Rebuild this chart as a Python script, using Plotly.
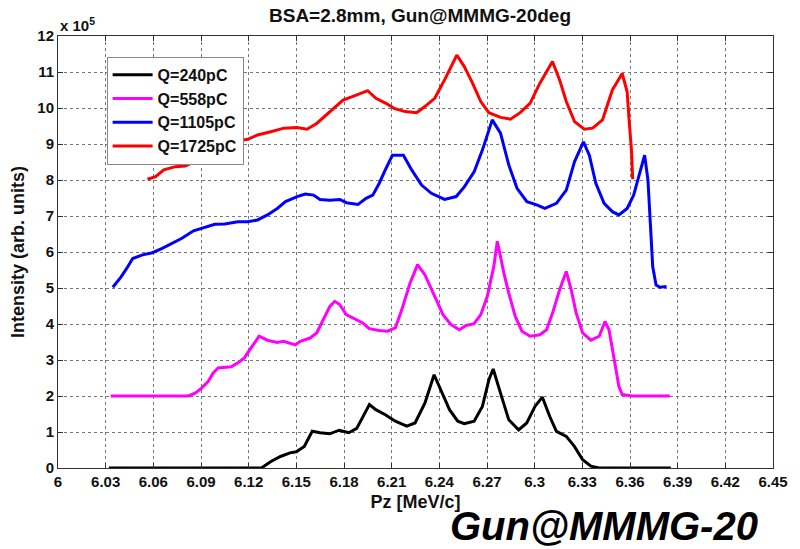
import plotly.graph_objects as go

# Longitudinal momentum spectra, Pz in MeV/c, intensity in units of 1e5
pz_240 = [6.032, 6.060, 6.090, 6.110, 6.128, 6.134, 6.140, 6.146, 6.150, 6.155, 6.160, 6.165,
          6.171, 6.177, 6.183, 6.188, 6.192, 6.196, 6.200, 6.206, 6.2123, 6.2195, 6.2247,
          6.2309, 6.2367, 6.2412, 6.2464, 6.2516, 6.2557, 6.2619, 6.2671, 6.2712, 6.2739,
          6.2785, 6.2837, 6.2899, 6.2950, 6.3002, 6.3048, 6.3095, 6.3137, 6.3199, 6.3250,
          6.3302, 6.3354, 6.3406, 6.3600, 6.3857]
int_240 = [0.0, 0.0, 0.0, 0.0, 0.0, 0.18, 0.32, 0.42, 0.45, 0.60, 1.02, 0.98,
           0.95, 1.05, 0.98, 1.10, 1.43, 1.76, 1.62, 1.48, 1.30, 1.16, 1.25,
           1.80, 2.59, 2.13, 1.62, 1.30, 1.23, 1.30, 1.71, 2.45, 2.75,
           2.08, 1.34, 1.06, 1.25, 1.71, 1.97, 1.43, 1.02, 0.88, 0.60,
           0.23, 0.05, 0.0, 0.0, 0.0]

pz_558 = [6.0332, 6.0600, 6.0821, 6.0863, 6.0904, 6.0946, 6.0977, 6.1008, 6.1049, 6.1090,
          6.1132, 6.1173, 6.1214, 6.1266, 6.1318, 6.1380, 6.1421, 6.1494, 6.1525, 6.1587,
          6.1628, 6.1670, 6.1711, 6.1742, 6.1773, 6.1814, 6.1856, 6.1918, 6.1959, 6.2021,
          6.2073, 6.2123, 6.2164, 6.2216, 6.2263, 6.2309, 6.2371, 6.2423, 6.2474, 6.2526,
          6.2568, 6.2619, 6.2661, 6.2702, 6.2743, 6.2765, 6.2806, 6.2837, 6.2878, 6.2920,
          6.2971, 6.3033, 6.3075, 6.3116, 6.3157, 6.3199, 6.3230, 6.3261, 6.3302, 6.3354,
          6.3406, 6.3443, 6.3468, 6.3499, 6.3530, 6.3551, 6.3613, 6.3851]
int_558 = [2.00, 2.00, 2.00, 2.08, 2.22, 2.41, 2.64, 2.78, 2.80, 2.81,
           2.92, 3.06, 3.33, 3.66, 3.55, 3.49, 3.52, 3.42, 3.52, 3.61,
           3.75, 4.12, 4.49, 4.63, 4.54, 4.26, 4.17, 4.03, 3.87, 3.82,
           3.80, 3.89, 4.40, 5.14, 5.65, 5.37, 4.77, 4.26, 3.98, 3.84,
           3.96, 4.01, 4.26, 4.77, 5.60, 6.30, 5.42, 4.86, 4.21, 3.80,
           3.66, 3.70, 3.84, 4.35, 4.95, 5.46, 4.95, 4.31, 3.75, 3.55,
           3.66, 4.07, 3.84, 3.01, 2.27, 2.04, 2.00, 2.00]

pz_1105 = [6.0345, 6.0397, 6.0439, 6.0470, 6.0532, 6.0594, 6.0656, 6.0718, 6.0780, 6.0853,
           6.0904, 6.0987, 6.1049, 6.1132, 6.1194, 6.1256, 6.1318, 6.1380, 6.1432, 6.1505,
           6.1556, 6.1608, 6.1649, 6.1711, 6.1774, 6.1815, 6.1888, 6.1939, 6.1981, 6.2022,
           6.2064, 6.2105, 6.2174, 6.2226, 6.2288, 6.2350, 6.2433, 6.2506, 6.2557, 6.2619,
           6.2671, 6.2733, 6.2785, 6.2837, 6.2889, 6.2951, 6.3013, 6.3064, 6.3137, 6.3199,
           6.3251, 6.3307, 6.3344, 6.3385, 6.3437, 6.3489, 6.3530, 6.3582, 6.3623, 6.3665,
           6.3692, 6.3713, 6.3727, 6.3743, 6.3764, 6.3789, 6.3830]
int_1105 = [5.02, 5.31, 5.59, 5.82, 5.92, 5.98, 6.10, 6.24, 6.38, 6.59,
            6.66, 6.77, 6.78, 6.84, 6.84, 6.89, 7.03, 7.21, 7.40, 7.54,
            7.61, 7.58, 7.46, 7.44, 7.46, 7.37, 7.32, 7.49, 7.58, 7.91,
            8.32, 8.69, 8.69, 8.28, 7.86, 7.63, 7.46, 7.54, 7.81, 8.23,
            8.83, 9.67, 9.30, 8.42, 7.77, 7.40, 7.31, 7.21, 7.35, 7.72,
            8.51, 9.06, 8.69, 7.91, 7.35, 7.12, 7.03, 7.21, 7.58, 8.28,
            8.69, 8.00, 6.80, 5.59, 5.08, 5.02, 5.04]

pz_1725 = [6.0563, 6.0614, 6.0666, 6.0739, 6.0801, 6.0863, 6.0925, 6.0987, 6.1049, 6.1091,
           6.1194, 6.1256, 6.1339, 6.1422, 6.1505, 6.1567, 6.1628, 6.1711, 6.1794, 6.1877,
           6.1949, 6.2001, 6.2064, 6.2115, 6.2185, 6.2257, 6.2309, 6.2371, 6.2433, 6.2510,
           6.2557, 6.2609, 6.2661, 6.2712, 6.2785, 6.2847, 6.2909, 6.2971, 6.3033, 6.3112,
           6.3157, 6.3199, 6.3251, 6.3313, 6.3365, 6.3427, 6.3489, 6.3551, 6.3582, 6.3596,
           6.3609, 6.3617]
int_1725 = [8.02, 8.09, 8.28, 8.37, 8.39, 8.51, 8.65, 8.79, 8.94, 9.06,
            9.13, 9.25, 9.34, 9.44, 9.46, 9.41, 9.57, 9.90, 10.22, 10.36,
            10.48, 10.27, 10.13, 9.99, 9.90, 9.87, 10.04, 10.27, 10.78, 11.47,
            11.15, 10.69, 10.18, 9.87, 9.74, 9.69, 9.87, 10.13, 10.69, 11.29,
            10.78, 10.18, 9.62, 9.41, 9.44, 9.67, 10.50, 10.96, 10.45, 9.57,
            8.83, 8.02]

series_names = ["Q=240pC", "Q=558pC", "Q=1105pC", "Q=1725pC"]
series_colors = ["#000000", "#ff00ff", "#0000ff", "#ff0000"]

x_ticks = [6.0, 6.03, 6.06, 6.09, 6.12, 6.15, 6.18, 6.21, 6.24, 6.27, 6.30, 6.33, 6.36, 6.39, 6.42, 6.45]
x_tick_text = ["6", "6.03", "6.06", "6.09", "6.12", "6.15", "6.18", "6.21", "6.24", "6.27",
               "6.3", "6.33", "6.36", "6.39", "6.42", "6.45"]
y_ticks = list(range(0, 13))

FONT = "Arial, 'Liberation Sans', Helvetica, sans-serif"

fig = go.Figure()
for xs, ys, name, color in zip([pz_240, pz_558, pz_1105, pz_1725],
                               [int_240, int_558, int_1105, int_1725],
                               series_names, series_colors):
    fig.add_trace(go.Scatter(x=xs, y=ys, mode="lines", name=name,
                             line=dict(color=color, width=3)))

axis_common = dict(
    showline=True, linecolor="#333333", linewidth=1, mirror="ticks",
    ticks="inside", ticklen=5, tickcolor="#333333",
    showgrid=True, gridcolor="#777777", griddash="dot", gridwidth=1,
    zeroline=False,
    tickfont=dict(family=FONT, size=15, color="#111111", weight="bold"),
)

fig.update_xaxes(range=[6.0, 6.45], tickvals=x_ticks, ticktext=x_tick_text,
                 title=dict(text="Pz [MeV/c]", standoff=6,
                            font=dict(family=FONT, size=18, color="#111111", weight="bold")),
                 **axis_common)
fig.update_yaxes(range=[0, 12], tickvals=y_ticks,
                 title=dict(text="Intensity (arb. units)", standoff=8,
                            font=dict(family=FONT, size=18, color="#111111", weight="bold")),
                 **axis_common)

fig.update_layout(
    width=800, height=549,
    margin=dict(l=58, r=18, t=36, b=81),
    paper_bgcolor="white", plot_bgcolor="white",
    title=dict(text="BSA=2.8mm, Gun@MMMG-20deg", x=0.525, xanchor="center",
               y=0.972, yanchor="middle",
               font=dict(family=FONT, size=19, color="#111111", weight="bold")),
    legend=dict(x=0.068, y=0.952, xanchor="left", yanchor="top",
                bgcolor="white", bordercolor="#888888", borderwidth=1,
                font=dict(family=FONT, size=16, color="#111111", weight="bold"),
                tracegroupgap=0, itemwidth=40),
    showlegend=True,
)

fig.add_annotation(text="x 10<sup>5</sup>", xref="paper", yref="paper",
                   x=0.0, y=1.0, xanchor="left", yanchor="bottom", showarrow=False,
                   font=dict(family=FONT, size=15, color="#111111", weight="bold"))
fig.add_annotation(text="Gun@MMMG-20", xref="paper", yref="paper",
                   x=0.764, y=-0.134, xanchor="center", yanchor="middle", showarrow=False,
                   font=dict(family=FONT, size=40, color="#000000", weight="bold",
                             style="italic"))

fig.write_html("out.html")
